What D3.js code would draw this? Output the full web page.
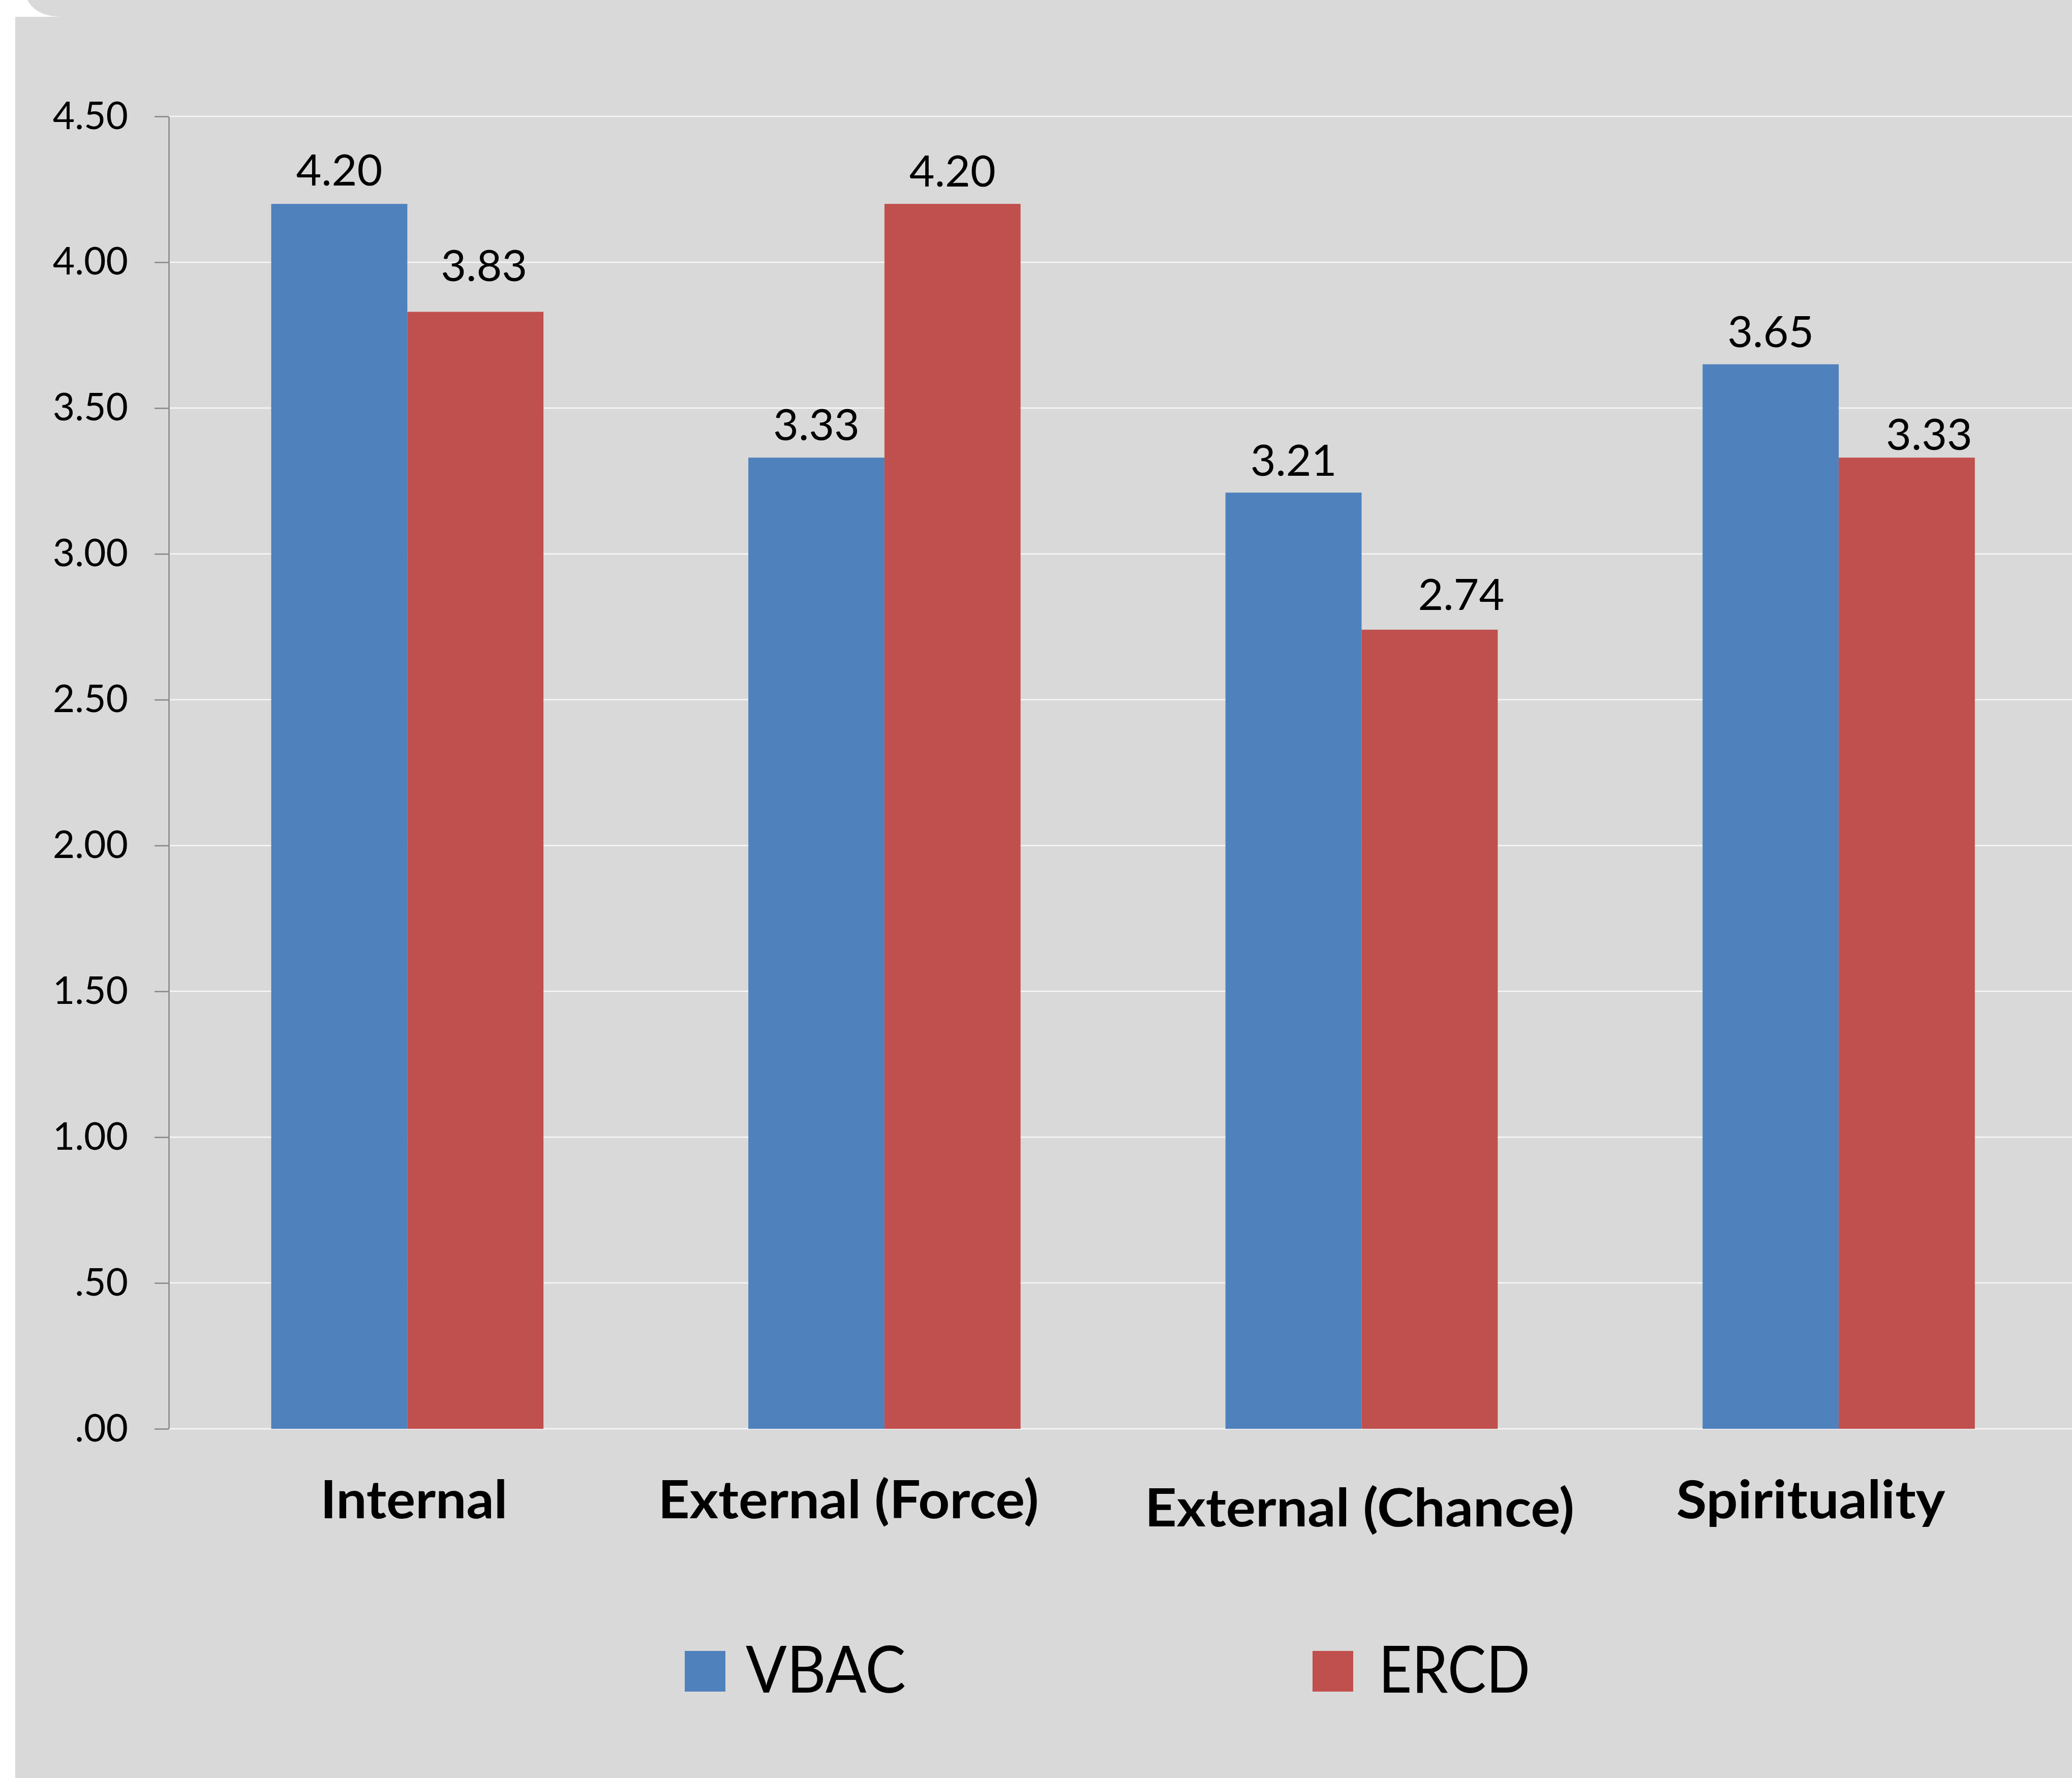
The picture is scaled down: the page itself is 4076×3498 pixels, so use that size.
<!DOCTYPE html>
<html>
<head>
<meta charset="utf-8">
<script src="https://cdn.jsdelivr.net/npm/d3@7"></script>
<style>
  html, body { margin: 0; padding: 0; background: #ffffff; }
  svg { display: block; }
</style>
</head>
<body>
<svg id="chart" width="4076" height="3498"></svg>
<script>
// ---- data ----
const categories = ["Internal", "External (Force)", "External (Chance)", "Spirituality"];
const seriesNames = ["VBAC", "ERCD"];
const vbacValues = [4.20, 3.33, 3.21, 3.65];
const ercdValues = [3.83, 4.20, 2.74, 3.33];
const yTickValues = [0, 0.5, 1, 1.5, 2, 2.5, 3, 3.5, 4, 4.5];
const yTickLabels = [".00", ".50", "1.00", "1.50", "2.00", "2.50", "3.00", "3.50", "4.00", "4.50"];

// ---- styling / layout (not data) ----
const colors = { VBAC: "#4F81BD", ERCD: "#C0504D" };
const W = 4076, H = 3498;
const plotLeft = 332, plotTop = 229, plotBottom = 2811;
const step = 938.6;
// label nudges [dx, gap above bar] per series per category
const valueLabelNudge = {
  VBAC: [[0, 36], [0, 34], [0, 33], [0, 34]],
  ERCD: [[17, 60], [0, 34], [62, 39], [44, 15]]
};
const catLabelNudge = [[13, 176], [-71, 176], [-4, 192], [-55, 176]];
const catLabelWidth = [368, 749, 845, 529];

const svg = d3.select("#chart");

// background
svg.append("rect").attr("x", 0).attr("y", 0).attr("width", W).attr("height", H).attr("fill", "#ffffff");
svg.append("rect").attr("x", 30).attr("y", 33).attr("width", W - 30).attr("height", H - 33).attr("fill", "#D9D9D9");
svg.append("path")
  .attr("d", `M54,0 C66,22 88,33 122,33 L${W},33 L${W},0 Z`)
  .attr("fill", "#D9D9D9");

// scales
const x0 = d3.scaleBand()
  .domain(categories)
  .range([plotLeft, plotLeft + step * categories.length])
  .paddingInner(0.4294)
  .paddingOuter(0.4294 / 2);
const x1 = d3.scaleBand().domain(seriesNames).range([0, x0.bandwidth()]).padding(0);
const y = d3.scaleLinear().domain([0, 4.5]).range([plotBottom, plotTop]);

// gridlines
svg.append("g").selectAll("line")
  .data(yTickValues)
  .join("line")
  .attr("x1", plotLeft).attr("x2", W)
  .attr("y1", d => y(d)).attr("y2", d => y(d))
  .attr("stroke", "#F7F7F7").attr("stroke-width", 2.5);

// bars
const rows = categories.map((c, i) => ({ cat: c, i, vals: [
  { key: "VBAC", v: vbacValues[i] }, { key: "ERCD", v: ercdValues[i] }
]}));

const groups = svg.append("g").selectAll("g")
  .data(rows).join("g")
  .attr("transform", d => `translate(${x0(d.cat)},0)`);

groups.selectAll("rect")
  .data(d => d.vals)
  .join("rect")
  .attr("x", d => x1(d.key))
  .attr("y", d => y(d.v))
  .attr("width", x1.bandwidth())
  .attr("height", d => y(0) - y(d.v))
  .attr("fill", d => colors[d.key]);

// value labels
groups.selectAll("text")
  .data(d => d.vals.map(v => ({ ...v, i: d.i })))
  .join("text")
  .attr("x", d => x1(d.key) + x1.bandwidth() / 2 + valueLabelNudge[d.key][d.i][0])
  .attr("y", d => y(d.v) - valueLabelNudge[d.key][d.i][1])
  .attr("text-anchor", "middle")
  .attr("font-family", "Lato, 'Open Sans', sans-serif")
  .attr("font-size", 86)
  .attr("fill", "#000")
  .text(d => d.v.toFixed(2));

// y axis
const yAxis = d3.axisLeft(y)
  .tickValues(yTickValues)
  .tickFormat((d, i) => yTickLabels[i])
  .tickSize(28)
  .tickSizeOuter(0)
  .tickPadding(52);
const gy = svg.append("g").attr("transform", `translate(${plotLeft},0)`).call(yAxis);
gy.select(".domain").attr("stroke", "#868686").attr("stroke-width", 2.5);
gy.selectAll(".tick line").attr("stroke", "#868686").attr("stroke-width", 2.5);
gy.selectAll(".tick text")
  .attr("font-family", "Lato, 'Open Sans', sans-serif")
  .attr("font-size", 75)
  .attr("fill", "#000");

// category labels
svg.append("g").selectAll("text")
  .data(categories)
  .join("text")
  .attr("x", (d, i) => x0(d) + x0.bandwidth() / 2 + catLabelNudge[i][0])
  .attr("y", (d, i) => y(0) + catLabelNudge[i][1])
  .attr("text-anchor", "middle")
  .attr("font-family", "Lato, 'Open Sans', sans-serif")
  .attr("font-weight", "bold")
  .attr("font-size", 103)
  .attr("textLength", (d, i) => catLabelWidth[i])
  .attr("lengthAdjust", "spacingAndGlyphs")
  .attr("fill", "#000")
  .text(d => d);

// legend
const legendItems = [
  { key: "VBAC", sx: 1347, tx: 1467, tw: 315 },
  { key: "ERCD", sx: 2582, tx: 2712, tw: 298 }
];
const lg = svg.append("g");
lg.selectAll("rect").data(legendItems).join("rect")
  .attr("x", d => d.sx).attr("y", 3248)
  .attr("width", 80).attr("height", 80)
  .attr("fill", d => colors[d.key]);
lg.selectAll("text").data(legendItems).join("text")
  .attr("x", d => d.tx).attr("y", 3330)
  .attr("font-family", "Lato, 'Open Sans', sans-serif")
  .attr("font-size", 128)
  .attr("textLength", d => d.tw)
  .attr("lengthAdjust", "spacingAndGlyphs")
  .attr("fill", "#000")
  .text(d => d.key);
</script>
</body>
</html>
